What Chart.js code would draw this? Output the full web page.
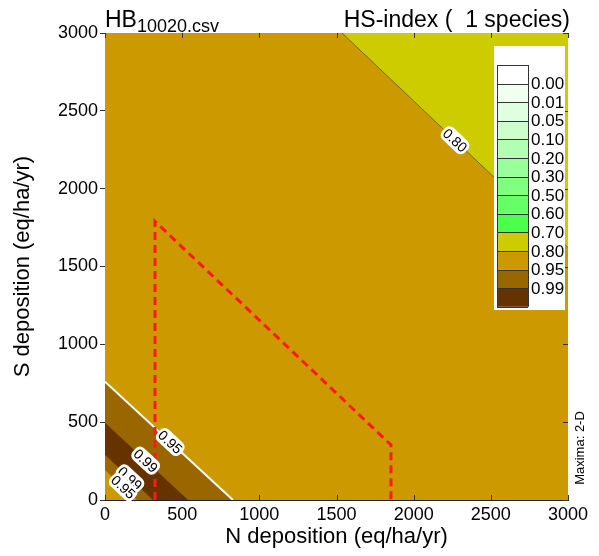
<!DOCTYPE html>
<html>
<head>
<meta charset="utf-8">
<script src="https://cdn.jsdelivr.net/npm/chart.js@4.4.0/dist/chart.umd.min.js"></script>
<style>
  html, body { margin: 0; padding: 0; background: #fff; }
  #wrap { width: 599px; height: 556px; }
</style>
</head>
<body>
<div id="wrap"><canvas id="hs"></canvas></div>
<script>
// Contour lines of the HS-index, as (N, S) deposition in eq/ha/yr
const c080 = [{ x: 1536, y: 3000 }, { x: 3000, y: 1622 }];
const c095Outer = [{ x: 0, y: 760 }, { x: 829, y: 0 }];
const c099Outer = [{ x: 0, y: 496 }, { x: 538, y: 0 }];
const c099Inner = [{ x: 0, y: 290 }, { x: 311, y: 0 }];
const c095Inner = [{ x: 0, y: 193 }, { x: 207, y: 0 }];

// Critical load function (red dashed)
const clfN = [324, 324, 1853, 1853];
const clfS = [0, 1790, 354, 0];

// Axis ticks
const tickValues = [0, 500, 1000, 1500, 2000, 2500, 3000];

// Colour scale
const levels = ['0.00', '0.01', '0.05', '0.10', '0.20', '0.30', '0.50', '0.60', '0.70', '0.80', '0.95', '0.99'];
const levelColors = ['#ffffff', '#f0fff0', '#e0ffe0', '#ccffcc', '#b3ffb3', '#99ff99', '#80ff80', '#66ff66', '#4dff4d',
                     '#cccc00', '#cc9900', '#996600', '#663300'];

// Contour labels: text, line, position along the line
const labelTexts = ['0.80', '0.95', '0.99', '0.99', '0.95'];
const labelLines = [c080, c095Outer, c099Outer, c099Inner, c095Inner];
const labelPos = [0.5, 0.51, 0.49, 0.52, 0.57];

const FONT = '"Liberation Sans", Arial, Helvetica, sans-serif';
const YELLOW = levelColors[9], GOLD = levelColors[10], BROWN = levelColors[11], DARK = levelColors[12];

const background = {
    id: 'background',
    beforeDatasetsDraw(chart) {
        const { ctx, chartArea: a } = chart;
        ctx.save();
        ctx.fillStyle = GOLD;
        ctx.fillRect(a.left, a.top, a.right - a.left, a.bottom - a.top);
        ctx.restore();
    }
};

const decorations = {
    id: 'decorations',
    afterDatasetsDraw(chart) {
        const { ctx, chartArea: a, scales } = chart;
        const xs = scales.x, ys = scales.y;

        // contour labels
        ctx.save();
        ctx.font = '14px ' + FONT;
        labelTexts.forEach((txt, i) => {
            const [p0, p1] = labelLines[i];
            const t = labelPos[i];
            const x0 = xs.getPixelForValue(p0.x), y0 = ys.getPixelForValue(p0.y);
            const x1 = xs.getPixelForValue(p1.x), y1 = ys.getPixelForValue(p1.y);
            const px = x0 + (x1 - x0) * t, py = y0 + (y1 - y0) * t;
            const ang = Math.atan2(y1 - y0, x1 - x0);
            const w = ctx.measureText(txt).width + 4;
            ctx.save();
            ctx.translate(px, py);
            ctx.rotate(ang);
            ctx.fillStyle = '#fff';
            ctx.beginPath();
            ctx.roundRect(-w / 2, -8, w, 16, 6);
            ctx.fill();
            ctx.fillStyle = '#000';
            ctx.textAlign = 'center';
            ctx.textBaseline = 'middle';
            ctx.fillText(txt, 0, 1);
            ctx.restore();
        });
        ctx.restore();

        // inward ticks on bottom, top and right edges
        ctx.save();
        ctx.strokeStyle = '#333';
        ctx.lineWidth = 1;
        ctx.beginPath();
        tickValues.forEach(v => {
            const x = Math.round(xs.getPixelForValue(v)) + 0.5;
            ctx.moveTo(x, a.bottom); ctx.lineTo(x, a.bottom - 5);
            ctx.moveTo(x, a.top); ctx.lineTo(x, a.top + 5);
            const y = Math.round(ys.getPixelForValue(v)) + 0.5;
            ctx.moveTo(a.right, y); ctx.lineTo(a.right - 5, y);
        });
        ctx.stroke();
        ctx.restore();
    },
    afterDraw(chart) {
        const { ctx, chartArea: a } = chart;
        ctx.save();

        // titles
        ctx.fillStyle = '#000';
        ctx.textBaseline = 'alphabetic';
        ctx.textAlign = 'left';
        ctx.font = '23px ' + FONT;
        ctx.fillText('HB', a.left, 27);
        const hbW = ctx.measureText('HB').width;
        ctx.font = '18px ' + FONT;
        ctx.fillText('10020.csv', a.left + hbW, 32);
        ctx.font = '23px ' + FONT;
        ctx.textAlign = 'right';
        ctx.fillText('HS-index (  1 species)', a.right + 2, 27);

        // legend
        const lx = 494, ly = 46, lw = 71, lh = 264;
        ctx.fillStyle = '#fff';
        ctx.fillRect(lx, ly, lw, lh);
        const bx = 497, bw = 31, by = 65, bh = 18.6;
        levelColors.forEach((col, i) => {
            ctx.fillStyle = col;
            ctx.fillRect(bx, by + i * bh, bw, bh);
        });
        ctx.strokeStyle = '#333';
        ctx.lineWidth = 1;
        ctx.beginPath();
        for (let i = 0; i <= levelColors.length; i++) {
            const y = Math.round(by + i * bh) + 0.5;
            ctx.moveTo(bx, y); ctx.lineTo(bx + bw, y);
        }
        ctx.moveTo(bx + 0.5, by); ctx.lineTo(bx + 0.5, by + levelColors.length * bh);
        ctx.moveTo(bx + bw + 0.5, by); ctx.lineTo(bx + bw + 0.5, by + levelColors.length * bh);
        ctx.stroke();
        ctx.fillStyle = '#000';
        ctx.font = '17px ' + FONT;
        ctx.textAlign = 'left';
        ctx.textBaseline = 'middle';
        levels.forEach((lv, i) => {
            ctx.fillText(lv, 531, by + (i + 1) * bh + 1);
        });

        // side note
        ctx.save();
        ctx.translate(580, 448);
        ctx.rotate(-Math.PI / 2);
        ctx.font = '13px ' + FONT;
        ctx.textAlign = 'center';
        ctx.textBaseline = 'middle';
        ctx.fillText('Maxima: 2-D', 0, 0);
        ctx.restore();

        ctx.restore();
    }
};

const ctx = document.getElementById('hs').getContext('2d');

new Chart(ctx, {
    type: 'line',
    data: {
        datasets: [
            {
                data: clfN.map((n, i) => ({ x: n, y: clfS[i] })),
                borderColor: '#ff1a1a',
                borderWidth: 3,
                borderDash: [8, 5],
                fill: false
            },
            { data: c095Inner, fill: 'start', backgroundColor: GOLD, borderWidth: 0 },
            { data: c099Inner, fill: 'start', backgroundColor: BROWN, borderWidth: 0 },
            { data: c099Outer, fill: 'start', backgroundColor: DARK, borderWidth: 0 },
            { data: c095Outer, fill: 'start', backgroundColor: BROWN, borderColor: '#ffffff', borderWidth: 2 },
            { data: c080, fill: 'end', backgroundColor: YELLOW, borderColor: '#5c5c00', borderWidth: 0.8 }
        ]
    },
    options: {
        responsive: true,
        maintainAspectRatio: false,
        animation: false,
        layout: { padding: { top: 33, right: 31, left: 0, bottom: 0 } },
        elements: { point: { radius: 0 }, line: { tension: 0 } },
        plugins: {
            legend: { display: false },
            tooltip: { enabled: false }
        },
        scales: {
            x: {
                type: 'linear',
                min: 0,
                max: 3000,
                afterBuildTicks(scale) { scale.ticks = tickValues.map(v => ({ value: v })); },
                afterFit(scale) { scale.height = 56; },
                ticks: { color: '#000', font: { size: 18, family: FONT }, padding: 4, maxRotation: 0, callback: v => String(v) },
                grid: { display: true, drawOnChartArea: false, drawTicks: false },
                border: { display: true, color: '#222', width: 1 },
                title: {
                    display: true,
                    text: 'N deposition (eq/ha/yr)',
                    color: '#000',
                    font: { size: 22, family: FONT },
                    padding: { top: 0, bottom: 6 }
                }
            },
            y: {
                type: 'linear',
                min: 0,
                max: 3000,
                afterBuildTicks(scale) { scale.ticks = tickValues.map(v => ({ value: v })); },
                afterFit(scale) { scale.width = 105; },
                ticks: { color: '#000', font: { size: 18, family: FONT }, padding: 2, callback: v => String(v) },
                grid: { display: true, drawOnChartArea: false, drawTicks: true, tickLength: 5, color: '#333' },
                border: { display: true, color: '#222', width: 1 },
                title: {
                    display: true,
                    text: 'S deposition (eq/ha/yr)',
                    color: '#000',
                    font: { size: 22, family: FONT },
                    padding: { top: 10, bottom: 0 }
                }
            }
        }
    },
    plugins: [background, decorations]
});
</script>
</body>
</html>
